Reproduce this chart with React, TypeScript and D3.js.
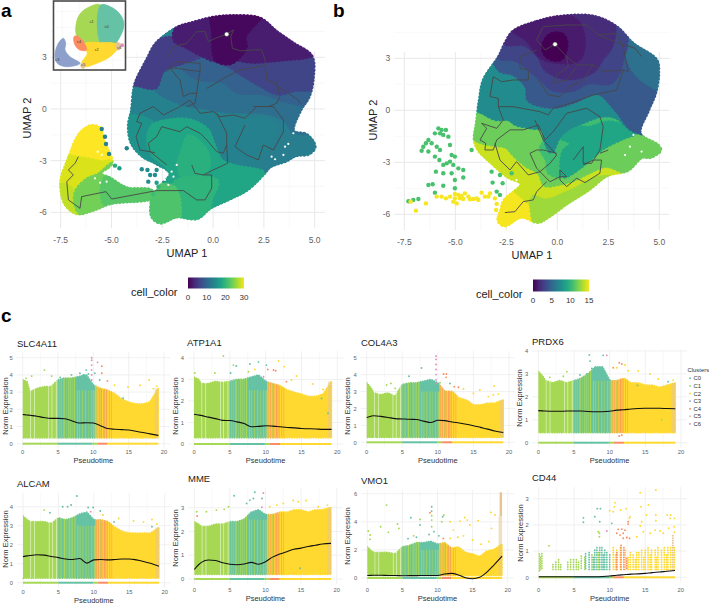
import * as d3 from 'd3';

type Pt = number[];
type Band = [number, Pt[]];

// ---- panel a, UMAP coordinates
const aMainOutline: Pt[] = [[0,5.3],[1,5.4],[2.3,5.25],[3.1,4.5],[3.95,3.8],[4.85,3.05],[4.9,1.7],[4.7,.7],[4.3,-.05],[3.95,-1.3],[4.6,-1.5],[5,-2.2],[4.7,-2.6],[4.05,-2.7],[3.6,-3],[2.8,-3.35],[2.5,-3.75],[1.65,-4.7],[.65,-5.3],[-.15,-5.75],[-.8,-6.35],[-1.8,-6.25],[-2.6,-6.6],[-3,-6.25],[-3,-5.3],[-2.6,-4.5],[-2.1,-3.75],[-2.8,-3.15],[-3.45,-2.75],[-4,-2],[-4.15,-1],[-4,-.05],[-3.9,1.1],[-3.75,1.7],[-3.25,2.85],[-2.8,3.8],[-1.8,4.7],[-1,5]];
const aLeftOutline: Pt[] = [[-5.81,-.99],[-5.56,-1.12],[-5.4,-1.8],[-5,-3.15],[-5.56,-3.74],[-5.07,-4.03],[-4.25,-4.6],[-3.1,-4.7],[-2.78,-5.09],[-3.27,-5.28],[-5.07,-5.48],[-5.89,-5.86],[-6.71,-6.06],[-7.29,-5.48],[-7.48,-4.22],[-7.2,-3.15],[-6.55,-1.41],[-6.06,-.99]];
const aMainBands: Band[] = [
  [13.3, aMainOutline],
  [15.5, [[-4.5,-.5],[-3,-.8],[-3.2,-1.8],[-3,-2.6],[-2,-3.8],[-3,-4],[-5,-3]]],
  [12.8, [[.5,-.2],[1.5,-.2],[2.5,-.3],[3.2,-.9],[3,-2],[2.4,-3.2],[3,-4],[5.5,-3],[5.5,-1.2],[4,-1.3],[3.5,-.6]]],
  [10.9, [[-2.85,1.25],[-2.45,2.25],[-1.6,2.65],[-.5,3.2],[.5,2.65],[.8,2.5],[1.3,2.1],[2.3,1.4],[3.2,.9],[4,1.1],[5.2,1.3],[5.2,-1.2],[4,-1.3],[3.5,-.6],[2.5,-.2],[1.5,-.15],[.5,-.1],[-.5,.1],[-1.5,.3]]],
  [9.3, [[-1.6,2.65],[-.5,3.2],[.5,2.65],[.8,2.5],[1.3,2.1],[2.3,1.4],[3.2,.9],[4,1.1],[5.2,1.3],[5,.3],[3.5,.5],[2.5,.9],[1.2,1],[.5,1.6],[-.8,1.8]]],
  [5.5, [[-4,1.4],[-3.25,3],[-2.8,3.9],[-1.9,4.1],[-1.3,3.6],[-.5,3.2],[-1.6,2.65],[-2.45,2.25],[-2.85,1.25],[-3.75,1.4]]],
  [6.2, [[.5,2.65],[1.2,2.95],[1.9,2.75],[2.7,2.8],[3.6,2.9],[5.2,3.2],[5.2,1.3],[4,1.1],[3.2,.9],[2.3,1.4],[1.3,2.1],[.8,2.5]]],
  [2.5, [[-1.8,4.7],[0,5.5],[0,4.4],[.15,2.85],[-.5,3.1],[-1.3,3.6],[-1.9,4]]],
  [2.5, [[2.4,5.5],[3.1,4.5],[4.95,3.2],[4.5,3],[3.6,2.9],[2.7,2.8],[1.9,2.75],[1.2,2.95],[1.6,3.6],[1.55,4.2]]],
  [0.6, [[0,5.6],[2.4,5.6],[1.55,4.2],[1.6,3.6],[1.2,2.95],[.8,2.65],[.15,2.85],[0,4.4]]],
  [18, [[-3,-1],[-2.5,-.75],[-1.2,-.65],[-.3,-1.2],[0,-2],[.4,-3],[1,-3.3],[2.5,-3.75],[1.65,-4.7],[.65,-5.3],[-.15,-5.75],[-.8,-6.6],[-3.2,-6.8],[-3,-5.3],[-2.1,-3.75],[-3,-2.6],[-3.2,-1.8]]],
  [19.4, [[-1.2,-1.6],[-.4,-2.3],[-.2,-3.2],[-.6,-4],[-1.4,-4.1],[-1.7,-3.2],[-1.5,-2.4]]],
  [19.8, [[-1.9,-4.3],[-.6,-4],[.2,-4.2],[-.1,-5.2],[-.4,-6.6],[-1.9,-6.6]]],
  [22, [[-3.2,-4.6],[-1.9,-4.6],[-1.8,-6.8],[-3.2,-6.8]]],
];
const aLeftBands: Band[] = [
  [30.4, aLeftOutline],
  [28.8, [[-8,-2.9],[-6.3,-2.9],[-5.5,-3.1],[-4.9,-3.1],[-4.9,-7],[-8,-7]]],
  [27.6, [[-8,-4.4],[-7,-4.6],[-6.7,-5],[-5.8,-5.6],[-5.8,-6.5],[-8,-6.5]]],
  [24, [[-5,-3.2],[-5.6,-3.8],[-6.2,-4.1],[-6.7,-4.7],[-6.8,-5.3],[-6.5,-6.1],[-4.5,-6],[-2.5,-6],[-2.5,-4.2],[-4,-3]]],
  [22.4, [[-5.3,-4],[-3.8,-4.2],[-2.6,-4.5],[-2.6,-5.5],[-5.3,-5.6]]],
];
const aDots: number[][] = [[-5.48,-1.16,13.5],[-5.32,-1.61,13.5],[-5.27,-2.03,13.5],[-5.12,-2.61,13.5],[-4.25,-2.28,13.5],[-4.83,-3.29,19],[-4.61,-3.44,17],[-3.51,-3.5,15],[-3.23,-3.54,15],[-3.1,-3.83,15],[-2.78,-3.54,15],[-2.86,-3.83,15],[-3.19,-4.22,15],[-2.78,-4.28,17],[-2.69,-4.51,20],[-3.02,-5.38,22],[-2.94,-5.77,22],[-2.78,-5.96,22],[-2.95,-4.95,21]];
const aHoles: Pt[] = [[3.95,-1.41],[3.7,-2.03],[3.54,-2.19],[3.46,-2.67],[3.05,-2.92],[2.88,-2.77],[-2.04,-3.64],[-1.95,-3.93],[-1.79,-3.25],[-2.37,-4.12],[-5.81,-4.03],[-5.56,-4.28],[-5.24,-4.22],[-5.68,-2.48],[-5.48,-2.67],[-2.45,-3.54],[-2.2,-4.41]];
const aPaths: Pt[][] = [
  [[-2.2,3.04],[-1.95,3.62],[-1.3,3.81],[-.81,4.49],[-.4,4.49],[-.23,3.91],[.1,4.1],[.67,4.34],[1,4.59],[.87,4.2],[.95,3.52],[1.36,3.37],[2.06,3.43],[2.39,3.43],[2.56,2.84],[2.64,1.68],[2.88,1.59],[3.46,1.1],[4.2,.52],[4.28,.33]],
  [[1.98,.14],[2.72,.14],[3.13,.33],[3.29,.72],[3.13,1.59]],
  [[-2.28,2.17],[-1.79,2.75],[-.64,2.65],[-.64,2.17],[-1.79,2.36],[-2.12,2.36],[-1.63,1.68],[-1.46,.72],[-1.14,.91],[-.81,.91],[-.72,1.68],[-.64,2.17]],
  [[-.81,.91],[-.89,.33],[-1.3,.14]],
  [[-.31,1.2],[.67,1.88],[1.33,2.26],[2.64,2.55]],
  [[-3.79,-1.61],[-3.51,-.83],[-3.76,-.74],[-3.6,-.25],[-2.94,.14],[-2.45,-.35],[-1.63,.14],[-1.14,.52],[-.64,-.25],[.01,-.15],[.34,-.45],[1,-.35],[1.57,-.54],[2.15,.14],[2.97,.14],[3.46,-.64],[3.46,-1.32],[2.97,-2.38],[2.47,-2.09],[2.23,-2.96],[1.65,-2.67],[1.08,-2.19],[1.57,-.93]],
  [[-3.79,-1.61],[-3.6,-2.38],[-2.86,-2.54]],
  [[-2.28,-3.25],[-3.1,-2.48],[-3.19,-1.99],[-2.78,-1.61],[-2.53,-1.03],[-1.63,-1.32],[-1.3,-1.03],[-.64,-1.41],[-.31,-1.8],[.18,-2.48],[.5,-2.57],[.67,-2.09],[.72,-3.15],[.01,-3.54],[-.48,-3.83],[-.89,-3.74],[-1.05,-3.25]],
  [[.18,-.25],[.67,-1.41],[.67,-2.09]],
  [[-6.63,-2.77],[-6.79,-3.15],[-7.12,-3.54],[-6.88,-3.83],[-7.2,-4.22],[-7.12,-5.28],[-6.55,-5.77],[-6.47,-5.09],[-5.27,-4.8],[-4.99,-5.23],[-2.78,-4.74],[-1.46,-4.74],[-.81,-5.28],[-.4,-5.28],[-.07,-4.61],[-.07,-3.83],[-.48,-3.83]],
];
const aStart: Pt = [.67,4.34];

// ---- inset, cluster shapes
const insetC1: Pt[] = [[.84,5.2],[-1.66,4.58],[-3.14,3.04],[-3.56,-.04],[-2.84,-1.27],[-1.95,-1.89],[.84,-1.76]];
const insetC0: Pt[] = [[.84,5.2],[3.1,4.58],[4.58,3.04],[5,1.5],[4.29,-.65],[3.1,-2.19],[.84,-1.76]];
const insetC2: Pt[] = [[-1.95,-1.89],[.84,-1.76],[3.4,-1.89],[4,-2.5],[2.5,-4.35],[.13,-5.58],[-1.95,-6.2],[-2.55,-5.58],[-1.54,-3.73],[-1.95,-2.81]];
const insetC4: Pt[] = [[-3.91,-.65],[-3.32,-.53],[-2.25,-1.58],[-1.66,-3.12],[-2.84,-3.12],[-3.73,-2.19]];
const insetC3: Pt[] = [[-5.81,-.96],[-5.4,-1.89],[-5.52,-3.12],[-4.63,-4.35],[-2.84,-5.58],[-5.22,-6.2],[-6.88,-5.58],[-7.3,-4.04],[-6.7,-1.89]];
const insetC5a: Pt[] = [[-2.55,-5.58],[-1.95,-5.77],[-2.13,-6.5],[-2.67,-6.3]];
const insetC5b: Pt[] = [[3.7,-1.76],[4.4,-2],[4.17,-3.1],[3.7,-3]];
const insetC6: Pt[] = [[4.5,-2],[4.95,-2.1],[4.85,-2.5],[4.45,-2.45]];
const insetShapes: [number, Pt[]][] = [[1,insetC1],[0,insetC0],[2,insetC2],[3,insetC3],[4,insetC4],[5,insetC5a],[5,insetC5b],[6,insetC6]];
const insetLabels: [string, number, number][] = [['c1',-.76,2.1],['c0',1.9,1.2],['c4',-3,-1.58],['c2',.13,-3.12],['c3',-6.88,-4.85],['c5',-2.25,-5.89],['c6',4.17,-2.63]];

// ---- panel b
const bOutline: Pt[] = [[-2.15,4.55],[-1,5.1],[.15,5.4],[1.8,5.4],[2.9,4.8],[3.7,3.85],[4.85,2.9],[4.95,2.15],[4.8,1],[4.45,0],[4.05,-1.35],[4.9,-2],[5.05,-2.3],[4.55,-2.7],[4.15,-2.7],[3.45,-3.45],[2.45,-3.75],[1.5,-4.6],[.5,-5.35],[-.45,-6.15],[-.95,-6.45],[-1.75,-6.15],[-2.6,-6.65],[-2.9,-6.35],[-2.75,-5.75],[-2.6,-5.2],[-1.75,-4.25],[-2.4,-3.85],[-3.2,-3.05],[-3.85,-2.3],[-4.05,-1.7],[-3.95,-.75],[-3.8,.6],[-3.6,1.75],[-2.85,3.1],[-2.55,3.85]];
const bBands: Band[] = [
  [15, bOutline],
  [14, [[-4.5,-2.5],[-2.5,-4.2],[-1.8,-4.9],[-1.2,-5.6],[-.95,-6.6],[6,-7],[6,6],[-5,6]]],
  [13, [[-1.2,-5],[-.6,-5.2],[.6,-4.7],[2,-3.9],[2.6,-3.9],[1.5,-5],[.2,-6],[-1,-6.7]]],
  [11.8, [[-4.5,-1.2],[-3.8,-1.8],[-3,-2],[-2.5,-2.1],[-2.1,-2.6],[-1.5,-3.2],[-.9,-3.6],[-.6,-4.3],[.2,-4.2],[.8,-4],[1.5,-3.6],[2.4,-3.2],[3.4,-3.6],[6,-4],[6,6],[-5,6]]],
  [10.5, [[-4.5,0],[-3.7,-.1],[-3,-.5],[-2.4,-.5],[-2,-.8],[-1.2,-1],[-.7,-1.1],[-.6,-1.7],[-.8,-2.2],[-.5,-2.9],[-.4,-3.6],[.3,-3.8],[1.2,-3.2],[1.6,-2.8],[2.2,-2.2],[3.2,-1.6],[3.8,-1.3],[6,-1.2],[6,6],[-5,6]]],
  [9, [[.1,-1.5],[.8,-1],[1.6,-1],[2.6,-.7],[3.8,-1.3],[3.2,-1.6],[2.2,-2.2],[1.6,-2.8],[1.2,-3.2],[.3,-3.8],[.3,-2.4],[.7,-1.9]]],
  [7.3, [[-5,.9],[-3.7,-.1],[-3,-.5],[-2.4,-.5],[-2,-.8],[-1.2,-1],[-.7,-1.1],[-.6,-1.7],[-.3,-2.4],[.1,-1.5],[.6,-1],[1.2,-.7],[2.2,-.3],[2.9,-.4],[3.8,-1.2],[6,-1.2],[6,6],[-5,6]]],
  [4.2, [[-3.2,3.2],[-2.8,2.3],[-2.15,2.1],[-1.5,1.35],[-1.4,.6],[-.2,.2],[.8,.5],[2,1],[2.9,0],[3.75,-1.15],[6,-1.2],[6,6],[-3.2,6]]],
  [5.6, [[3.2,4.3],[5.2,3.1],[5.2,1.2],[4.5,1.5],[3.8,2.2],[3.4,3.2]]],
  [3.1, [[-2.9,3.1],[-2,2.9],[-1.2,2.2],[-.8,1.8],[-.2,1.2],[.8,1.2],[1.5,1.6],[2.6,1.6],[3,2.2],[3.2,3],[3.4,4],[3.2,6],[-3,6]]],
  [1.9, [[-2.6,3.9],[-1.6,3.8],[-.9,3.1],[-.6,2.4],[.2,1.9],[1,1.9],[1.8,2.3],[2.2,3],[2.6,3.6],[2.8,4.8],[2.4,6],[-2.6,6]]],
  [1.1, [[-2.1,4.6],[-1.5,4.1],[-.7,3],[1,2.9],[1.3,3.8],[1,5.1],[0,5.5],[-1,5.2]]],
  [0, [[-.35,4.35],[.25,4.35],[.45,3.8],[.15,2.95],[-.5,3.1],[-.7,3.65]]],
];
const bGreenDots: Pt[] = [[-5.83,-1.04],[-5.67,-1.13],[-5.46,-1.13],[-6,-1.33],[-5.75,-1.33],[-5.59,-1.42],[-5.34,-1.52],[-5.26,-2],[-6.32,-1.71],[-6.44,-1.9],[-6.16,-1.9],[-6.57,-2.1],[-5.91,-2.1],[-6.65,-2.33],[-6.32,-2.38],[-5.75,-2.29],[-5.18,-2.58],[-5.02,-2.67],[-6,-2.67],[-5.78,-2.87],[-5.26,-2.96],[-5.42,-3.06],[-5.1,-3.15],[-5.59,-3.15],[-4.85,-3.35],[-4.61,-3.44],[-5.95,-3.54],[-5.18,-3.63],[-5.59,-3.63],[-5.02,-4.02],[-4.61,-3.88],[-5.02,-4.5],[-6.32,-4.31],[-6.11,-4.27],[-5.59,-4.35],[-6,-4.75],[-7.3,-5.25],[-7.06,-5.17],[-6.81,-5.12],[-4.2,-2.29],[-3.22,-3.54],[-2.81,-3.73],[-3.17,-4.17],[-2.68,-4.21],[-2.97,-4.69],[-2.81,-4.88],[-2.24,-3.63]];
const bYellowDots: Pt[] = [[-5.91,-4.98],[-5.67,-4.98],[-5.46,-5.08],[-5.02,-4.83],[-5.02,-5.08],[-4.85,-4.88],[-4.53,-4.79],[-4.36,-4.98],[-4.93,-5.37],[-4.61,-5.12],[-4.12,-5.12],[-3.87,-5.17],[-3.71,-4.75],[-3.55,-4.98],[-3.3,-4.79],[-3.38,-4.98],[-6.93,-5.79],[-6.44,-5.37],[-7.19,-5.27],[-3.06,-5.08],[-2.97,-5.4],[-3,-5.75],[-5.26,-4.98],[-4.77,-5.08],[-4.28,-5.13],[-3.95,-5.08],[-4.69,-4.94],[-5.1,-5.27]];
const bHoles: Pt[] = [[3.73,-1.42],[3.56,-2.1],[3.32,-2.58],[4.13,-2.38],[-2,-4.02]];
const bPaths: Pt[][] = [
  [[-.11,3.81],[-.6,3.48],[-1.01,4.06],[-.69,4.83],[.46,4.92],[.95,4.92],[1.44,4.92],[2.01,4.35],[2.99,3.87],[3.81,3.58],[4.13,3.1]],
  [[-.11,3.81],[.46,3.1],[.95,2.62],[1.76,2.62],[2.25,2.23],[3.24,2.33],[3.48,2.23],[3.24,3.58],[2.91,4.44],[2.01,4.35]],
  [[.46,3.1],[.54,2.52],[-.03,2.04],[-.2,1.56],[.46,1.75],[.95,2.52]],
  [[-1.01,3.48],[-1.83,3.1],[-1.83,2.42],[-1.42,2.33],[-1.42,1.75],[-2.16,1.75],[-2.73,1.65],[-3.14,1.94],[-3.3,.79],[-2.89,.69],[-2.89,.21],[-2.16,.21],[-.85,-.08],[-.44,-.27],[-.2,.12],[.62,.4],[1.76,.88],[2.91,1.17],[3.24,2.33]],
  [[-.93,1.75],[-.44,.88],[.13,.79],[.62,1.37],[1.27,1.75],[1.76,2.62]],
  [[-3.71,-.75],[-3.46,-1.04],[-3.79,-1.71],[-3.51,-1.9],[-3.55,-2.29],[-3.14,-2.29],[-2.97,-1.71],[-2.32,-1.13],[-1.67,-1.13],[-.93,-.85],[-.6,-1.71],[-.2,-1.23],[.46,-.17],[1.44,.12],[2.09,-.37],[2.25,-.94],[2.09,-2.29],[1.68,-3.06],[1.27,-3.06],[1.27,-2.1],[.78,-2.87]],
  [[-3.71,-.75],[-2.97,-1.04],[-2.65,-.56],[-2.89,.21]],
  [[-1.1,-.56],[-.69,-1.71],[-.03,-2.58],[-.36,-3.06],[-.85,-3.54],[-1.42,-3.73],[-2,-2.96],[-2.32,-3.44],[-2.81,-2.87],[-3.06,-1.9]],
  [[-.03,-2.48],[-.69,-2.29],[-1.01,-2.29],[-1.34,-2.48],[-1.01,-3.35],[-.85,-3.54],[-.36,-4.12],[.13,-3.83],[.46,-3.83],[.13,-3.44],[.13,-4.02],[.46,-4.4],[.95,-3.92],[1.36,-4.17],[2.09,-3.63],[2.17,-2.87],[1.76,-2.87],[1.27,-3.15]],
  [[-.52,-4.12],[-1.01,-4.69],[-1.18,-5.17],[-1.67,-5.27],[-2.08,-5.85],[-2.57,-5.9]],
  [[2.09,-2.48],[2.5,-2.29]],
];
const bStart: Pt = [-.11,3.81];

// ---- panel c, clusters: colours follow ColorBrewer Set2
const clusterNames = ['C0','C1','C2','C3','C4','C5','C6'];
const clusterColors = ['#66c2a5','#a6d854','#ffd92f','#8da0cb','#fc8d62','#e5c494','#e78ac3'];
const geneNames = ['SLC4A11','ATP1A1','COL4A3','PRDX6','ALCAM','MME','VMO1','CD44'];
const binTimes = [0,.6,1,2,3,4,5,6,7,8,9,10,11,12,13,14,15,16,17,18,19.2];

const slcUpper = [3.7,3.6,3,3.2,3.3,3.3,3.7,3.8,3.8,3.9,4,3.4,3.2,3.1,2.9,2.6,2.4,2.3,2.3,2.4,3.2];
const atpUpper = [3.1,3,2.8,2.8,2.9,2.85,2.9,3,3,3.1,3.2,2.9,2.8,2.7,2.5,2.4,2.3,2.2,2.2,2.3,2.9];
const colUpper = [3.5,3.2,2.9,2.8,2.9,2.7,3.4,3.5,3.5,3.6,3.7,3.5,3,3,2.6,2.5,2.2,2.2,2.3,2.3,2.5];
const prdUpper = [3.1,2.9,2.7,2.6,2.7,2.6,2.7,2.8,3,3.3,3.3,2.7,2.7,2.8,2.6,2.6,2.5,2.5,2.4,2.5,2.6];
const alcUpper = [3.5,3.3,3.2,3.2,3.2,3.1,3.4,3.3,3.4,3.6,3.7,3.3,3.3,3.2,2.9,2.7,2.6,2.6,2.6,2.6,2.9];
const mmeUpper = [2.4,2.3,2.2,2.2,2.3,2.3,2.4,2.4,2.5,2.8,2.9,2.7,2.7,2.8,2.8,2.9,2.9,2.8,2.9,2.9,3];
const vmoUpper = [2.2,1.9,1.8,1.8,1.8,1.7,2.2,2.3,2.5,2.5,2.6,2.4,2.5,2.1,2.2,1.8,1.7,1.5,1.9,2,2.4];
const lowerBounds = [.35,.3,.3,.45,.25,.2,.18];
const tealCapFrom = [3.1,2.5,3,2.7,3,2.5,2];
const geneUppers = [slcUpper,atpUpper,colUpper,prdUpper,alcUpper,mmeUpper,vmoUpper];

const slcTrend = [1.7,1.67,1.65,1.6,1.52,1.47,1.47,1.45,1.32,1.2,1.22,1.2,1.05,.88,.84,.82,.8,.72,.65,.57,.48];
const atpTrend = [1.38,1.35,1.33,1.25,1.18,1.1,1.09,1.03,.95,.8,.82,.85,.83,.8,.77,.75,.72,.71,.7,.68,.68];
const colTrend = [1.47,1.54,1.57,1.53,1.47,1.4,1.38,1.36,1.35,1.25,1.17,1.3,1.28,1.2,1.14,1.07,.98,.88,.78,.67,.58];
const prdTrend = [1.4,1.39,1.38,1.37,1.37,1.38,1.38,1.38,1.36,1.35,1.35,1.37,1.42,1.44,1.47,1.49,1.5,1.5,1.5,1.49,1.48];
const alcTrend = [1.37,1.41,1.43,1.47,1.45,1.38,1.32,1.25,1.22,1.27,1.03,1.2,1.22,1.2,1.22,1.25,1.25,1.2,1.12,1.02,.87];
const mmeTrend = [.4,.6,.7,.8,.78,.68,.62,.6,.63,.7,.62,.73,.92,1.05,1.15,1.25,1.3,1.37,1.42,1.47,1.5];
const vmoTrend = [.18,.19,.2,.2,.18,.18,.16,.17,.17,.18,.18,.18,.28,.33,.22,.02,-.05,.05,.4,.9,1.55];
const cdTrend = [.02,.02,.02,.02,.02,.02,.02,.02,.02,.02,.03,.05,.08,.1,.12,.13,.15,.18,.2,.23,.26];
const geneTrends = [slcTrend,atpTrend,colTrend,prdTrend,alcTrend,mmeTrend,vmoTrend,cdTrend];

// [pseudotime, width], stripes shared by the dense panels
const c0Stripes = [[5,.22],[5.3,.12],[5.5,.25],[5.95,.2],[6.2,.25],[6.6,.15],[6.85,.1],[7.05,.2],[7.4,.28],[7.8,.2],[8.1,.3],[8.5,.35],[8.95,.3],[9.3,.35],[9.75,.25],[10.1,.12]];
const c4Stripes = [[10.3,.1],[10.6,.12],[10.85,.08],[11.05,.18],[11.4,.2],[11.8,.15],[12.2,.1],[12.5,.08]];
const c1LateStripes = [[9.9,.2],[10.4,.12],[10.9,.1],[11.6,.1]];
const whiteSlits = [1.05,1.6,3.65,4.1,4.7];
const c5Tops = [3.2,2.9,2.5,2.6,2.9,3,4.4];

// [pseudotime, value, cluster]
const slcPts = [[9.76,5,6],[9.76,4.85,6],[9.76,4.57,6],[9.76,4.28,6],[9.76,4,6],[9.76,3.7,6],[10.6,4.73,6],[11.2,4.5,4],[11.2,4.1,4],[12,3.65,4],[3.07,4.28,1],[1.27,3.93,1],[.47,3.8,1],[4.1,3.93,1],[17.9,3.7,2],[16.6,3.4,2],[14.9,3.3,2],[13,3.4,2],[9,4.28,0],[8.1,4.1,0],[8.6,4,0],[6.9,4,0],[5.3,3.85,0],[5.75,3.8,0],[9.3,4.05,0],[10.2,4.1,0],[10.9,3.7,0],[14.2,2.64,0],[18.5,3.2,2],[19,3.35,2]];
const atpPts = [[4.1,4.09,1],[5.5,3.67,1],[5.9,3.63,0],[7.8,3.72,0],[9,3.81,0],[10.1,3.67,0],[11.8,3.86,2],[12.6,3.6,2],[10.3,3.47,4],[11.1,3.44,4],[11.4,3.41,4],[8.5,3.47,2],[7.6,3.36,1],[2.9,3.3,1],[.1,3.3,1],[5.1,3.3,0],[9.7,3.13,6],[13.6,2.98,2],[14.3,3.16,2],[16.6,2.79,2],[17.8,2.12,0],[18.7,1.43,0],[12.9,2.9,4],[18,2.54,2]];
const colPts = [[9.74,5.1,6],[9.74,4.9,6],[9.74,4.6,6],[9.74,4.3,6],[9.74,4,6],[9.74,3.7,6],[9.74,3.5,6],[7.7,4.39,0],[5.95,3.9,0],[10.8,4.04,4],[11.15,3.84,4],[11.2,4.04,4],[2.8,3.39,1],[3.4,3.48,1],[4,3.19,1],[12.3,3.29,4],[12.9,3.25,4],[13.6,3.15,2],[15.9,3.09,2],[17.9,3.33,2],[17.8,2.8,2],[18.5,2.85,2],[17.1,2.7,2],[15,2.9,2],[11.7,3.48,0],[10.3,3.52,1]];
const prdPts = [[7.15,3.83,0],[9.1,3.81,0],[9.6,3.81,6],[7.25,3.56,0],[11.35,3.49,4],[11.7,3.43,4],[12.15,3.39,2],[10.5,3.27,4],[11,3.27,2],[7.5,3.24,0],[4,3.1,1],[1.6,2.85,1],[3.5,2.9,1],[5.85,2.95,0],[6.8,3,0],[12.6,3.14,2],[14,3.13,2],[15.65,3,2],[16.8,2.78,2],[18.2,2.66,0],[18.9,2.73,2],[13.9,2.5,0],[11.7,.33,4],[11.35,.29,4],[13.3,.55,2],[17.3,1,1]];
const alcPts = [[7.6,4.56,0],[5.6,4,0],[6.3,4,0],[6.8,4.09,0],[9.2,3.96,0],[9.9,3.96,0],[3,3.82,1],[3.8,3.68,0],[9.55,3.74,6],[10.9,3.77,0],[11.3,3.56,2],[13.5,3.38,2],[15.6,3.25,2],[17,3.2,2],[18.2,3.33,2],[18.9,3.09,2],[12.85,3.2,0],[18.2,2.95,0],[1.2,.23,1],[.05,.23,1],[14.9,.4,2]];
const mmePts = [[5.6,3.5,0],[8.5,3.65,0],[9.7,3.62,6],[.33,2.83,1],[1.7,2.83,1],[3.1,2.9,1],[4.2,2.93,1],[4.8,3.04,1],[7.35,3.18,0],[7.8,3.32,0],[8.3,3.39,0],[9.5,3.39,0],[9.5,3.02,6],[10.6,3.04,2],[11.6,3.11,2],[12.5,3.18,2],[13.9,3.3,2],[14.6,3.25,2],[15.7,3.3,2],[17.4,3.04,2],[18.7,3.11,2],[.4,2.65,4],[14.85,.45,0],[13.35,.52,2],[15.55,.2,2]];
const vmoPts = [[2.75,5.19,1],[1.9,3.65,1],[3,3.25,1],[4.3,3.84,1],[4.5,3.53,1],[.14,3.34,1],[.4,3.06,1],[.4,2.75,1],[6.2,4.29,0],[7.5,4.17,1],[7.5,3.77,0],[9.17,5.07,0],[9.17,4.76,0],[8.93,4.64,4],[9.17,4.43,1],[9.17,4.12,1],[9.17,3.65,1],[10.9,4.48,1],[10.74,4.36,0],[10.6,4,1],[11.8,4,2],[13.9,4.31,2],[14.25,4.12,2],[13.2,4.05,2],[15.8,4.07,2],[14.6,3.77,2],[12.26,3.41,2],[17.6,4.67,2],[18.2,4.48,2],[17.7,3.53,2],[10.83,2.82,4],[11.8,2.82,2],[9.5,3.3,0],[8.8,3.1,0],[10.2,3,0],[7,2.9,0],[5.8,2.8,0],[6.6,3,1],[12.9,2.9,2],[13.7,3,2],[15,2.7,2],[16.2,2.4,2],[17.3,2.6,2]];
const cdPts = [[14.3,3.23,2],[16.5,3.33,2],[15.45,2.76,2],[14.4,2.69,2],[10.75,2.85,2],[10.66,2.69,2],[12.3,2.62,2],[11.55,2.57,2],[10.5,2.5,2],[10,2.54,2],[12.85,2.31,2],[12.77,2.25,2],[12.6,2.03,4],[15.2,2.38,2],[16.5,2.38,2],[18.1,2.38,2],[18.6,2.38,2],[18.5,2.25,2],[19.1,2.25,2],[16.5,2.16,2],[14.5,2.12,2],[14.3,1.96,2],[14.75,1.74,2],[15.7,1.68,2],[16.4,1.8,2],[17.1,1.77,2],[17.55,1.68,2],[18.3,1.87,2],[19.1,1.93,2],[19.1,1.72,2],[13.8,1.55,2],[6.3,2.27,0],[6.3,2.1,0],[7.9,2.31,0],[8.25,2.62,0],[8.7,2.62,0],[8.6,2.12,0],[10.3,2.06,0],[8.4,1.74,1],[8.55,1.68,1],[8.55,1.55,1],[1.45,1.2,1],[11.2,1.83,4],[11.7,1.84,4],[11.9,1.68,4],[11.45,1.61,4],[12.4,1.52,4],[11,1.68,4],[12.6,2.12,4],[12.15,1.8,4],[12.8,1.49,4],[11.9,1.49,4],[9.6,1.77,6]];
const genePoints = [slcPts,atpPts,colPts,prdPts,alcPts,mmePts,vmoPts,cdPts];

// [pseudotime, low, high, cluster] for the sparse CD44 columns
const cdColumns = [[.1,.25,.95,1],[.25,.3,.8,1],[.45,.35,.9,1],[2,.3,.5,1],[2.4,.3,.6,1],[2.8,.3,.7,1],[3.1,.3,.55,1],[4.1,.3,.6,1],[4.5,.3,.7,1],[4.9,.3,.75,1],[5.3,.3,.7,1],[5.6,.3,.6,1],[6,.35,.85,1],[6.5,.3,.8,1],[6.6,.35,.9,0],[7.1,.3,.95,0],[7.5,.3,.9,1],[7.7,.3,.8,0],[7.9,.3,1.1,0],[8.2,.3,1.2,0],[8.4,.3,1,1],[8.6,.3,1.2,0],[8.9,.3,1.15,0],[9.1,.3,.9,0],[9.3,.3,1.1,0],[9.6,.3,.95,0],[10,.3,.9,0],[10.5,.3,1.2,2],[10.8,.3,.9,2],[11,.3,1.05,2],[11.5,.3,1.2,2],[12.2,.3,1.1,2],[12.6,.3,.8,2],[12.9,.3,.95,2],[13.3,.3,.9,2],[13.6,.3,.7,2],[13.8,.3,.95,2],[14.1,.3,1,2],[14.5,.3,1.1,2],[14.8,.3,.8,2],[15,.3,1.05,2],[15.4,.3,1.2,2],[15.7,.3,.85,2],[15.9,.3,1.1,2],[16.4,.3,1.05,2],[16.6,.3,.8,2],[16.8,.3,1.2,2],[17.3,.3,1.1,2],[17.7,.3,1.15,2],[18,.3,.9,2],[18.2,.3,1.2,2],[18.6,.3,1.2,2],[19.1,.3,1.2,2],[18.9,.3,1.6,5],[11,.3,1,4],[11.6,.3,1.3,4],[12,.3,1.2,4],[12.4,.35,.8,4]];
const rugSegments = [[0,5,1],[5,9.9,0],[9.9,10.6,1],[10.6,12,4],[12,19.2,2]];

// layout of the eight small panels: x of 0 and 20, y of 0, y of refValue, title position
const frames = [
  {x0:22.7,x20:164,y0:443.7,yRef:357.7,ref:5,ticks:[0,1,2,3,4,5],tx:17,ty:346.5,lx:4.5,ly:406,pty:463,top:352},
  {x0:194,x20:337.3,y0:444,yRef:358,ref:4,ticks:[0,1,2,3,4],tx:187,ty:346,lx:175,ly:406,pty:463,top:351},
  {x0:366.7,x20:509,y0:442.3,yRef:357.7,ref:5,ticks:[0,1,2,3,4,5],tx:361,ty:346,lx:347,ly:406,pty:463,top:351},
  {x0:538.3,x20:681,y0:442.7,yRef:351,ref:4,ticks:[0,1,2,3,4],tx:532,ty:345,lx:519,ly:398,pty:463,top:350},
  {x0:23,x20:164.7,y0:582.7,yRef:506.7,ref:4,ticks:[0,1,2,3,4],tx:17,ty:487,lx:4.5,ly:539,pty:603,top:493},
  {x0:194.3,x20:336.7,y0:579,yRef:507.7,ref:3,ticks:[0,1,2,3],tx:188,ty:482,lx:175,ly:538,pty:601,top:488},
  {x0:367.3,x20:507.7,y0:578,yRef:493.7,ref:6,ticks:[0,2,4,6],tx:361,ty:484,lx:347,ly:536,pty:601,top:490},
  {x0:538.7,x20:680.7,y0:577.3,yRef:498.7,ref:3,ticks:[0,1,2,3],tx:532,ty:481,lx:520,ly:533,pty:601,top:487},
];
const pseudotimeTicks = [0,5,10,15,20];

const sans = '"Liberation Sans", Arial, sans-serif';
const axisGrey = '#5f5f5f';

const closed = (sx: any, sy: any) => d3.line<Pt>().x(d => sx(d[0])).y(d => sy(d[1])).curve(d3.curveCatmullRomClosed.alpha(.5));
const open = (sx: any, sy: any) => d3.line<Pt>().x(d => sx(d[0])).y(d => sy(d[1]));

const UmapPanel = ({ id, sx, sy, color, groups, dots, holes, paths, start }: any) => {
  const toClosed = closed(sx, sy);
  const toOpen = open(sx, sy);
  const right = sx.range()[1] + 10;
  const left = sx.range()[0] - 10;
  const top = sy.range()[1] - 6;
  const bottom = sy.range()[0] + 16;
  return (
    <g>
      {d3.range(-7.5, 5.1, 1.25).map((v, i) => (
        <line key={'x' + i} x1={sx(v)} x2={sx(v)} y1={top} y2={bottom} stroke={i % 2 ? '#f3f3f3' : '#e8e8e8'} strokeWidth={i % 2 ? .6 : 1} />
      ))}
      {d3.range(-6, 4.6, 1.5).map((v, i) => (
        <line key={'y' + i} x1={left} x2={right} y1={sy(v)} y2={sy(v)} stroke={i % 2 ? '#f3f3f3' : '#e8e8e8'} strokeWidth={i % 2 ? .6 : 1} />
      ))}
      {groups.map((g: any, gi: number) => (
        <g key={gi}>
          <mask id={`${id}-m${gi}`} maskUnits="userSpaceOnUse" x={0} y={0} width={709} height={605}>
            <path d={toClosed(g.outline) || ''} fill="#fff" stroke="#fff" strokeWidth={4} strokeLinecap="round" strokeDasharray="0.1 3.4" />
          </mask>
          <g mask={`url(#${id}-m${gi})`}>
            {g.bands.map((b: Band, i: number) => (
              <path key={i} d={toClosed(b[1]) || ''} fill={color(b[0])} stroke={color(b[0])} strokeWidth={4.5} strokeLinecap="round" strokeDasharray="0.1 3.9" />
            ))}
          </g>
        </g>
      ))}
      {holes.map((d: Pt, i: number) => <circle key={i} cx={sx(d[0])} cy={sy(d[1])} r={1.1} fill="#fff" />)}
      {dots.map((d: number[], i: number) => <circle key={i} cx={sx(d[0])} cy={sy(d[1])} r={2.2} fill={color(d[2])} />)}
      {paths.map((p: Pt[], i: number) => <path key={i} d={toOpen(p) || ''} fill="none" stroke="#474747" strokeWidth={.9} />)}
      <circle cx={sx(start[0])} cy={sy(start[1])} r={2.3} fill="#fff" stroke="#333" strokeWidth={.6} />
      {[-7.5,-5,-2.5,0,2.5,5].map(v => (
        <text key={v} x={sx(v)} y={sy.range()[0] + 31} textAnchor="middle" fontSize={8.5} fill={axisGrey}>{v.toFixed(1)}</text>
      ))}
      {[-6,-3,0,3].map(v => (
        <text key={v} x={left - 4} y={sy(v) + 3} textAnchor="end" fontSize={8.5} fill={axisGrey}>{v}</text>
      ))}
    </g>
  );
};

const ColorBar = ({ id, x, y, w, h, color, max, ticks }: any) => {
  const scale = d3.scaleLinear().domain([0, max]).range([x, x + w]);
  return (
    <g>
      <defs>
        <linearGradient id={id}>
          {d3.range(0, 1.01, .1).map(s => <stop key={s} offset={s} stopColor={color(s * max)} />)}
        </linearGradient>
      </defs>
      <rect x={x} y={y} width={w} height={h} fill={`url(#${id})`} />
      {ticks.map((t: number) => (
        <text key={t} x={scale(t)} y={y + h + 11.5} textAnchor="middle" fontSize={8} fill="#333">{t}</text>
      ))}
    </g>
  );
};

const ExpressionPanel = ({ index }: { index: number }) => {
  const f = frames[index];
  const sx = d3.scaleLinear().domain([0, 20]).range([f.x0, f.x20]);
  const sy = d3.scaleLinear().domain([0, f.ref]).range([f.y0, f.yRef]);
  const upper = geneUppers[index];
  const maskId = `env-${index}`;
  const env = upper
    ? d3.area<number>().x((_, i) => sx(binTimes[i])).y0(() => sy(lowerBounds[index])).y1((_, i) => sy(upper[i]))(binTimes)
    : null;
  const trend = d3.line<number>().x((_, i) => sx(binTimes[i])).y(d => sy(d)).curve(d3.curveMonotoneX)(geneTrends[index]);
  const stripe = (s: number[], c: number, key: string, op = .9) => (
    <rect key={key} x={sx(s[0])} width={sx(s[1]) - sx(0)} y={f.top} height={f.y0 - f.top} fill={clusterColors[c]} opacity={op} />
  );
  return (
    <g>
      {[0,2.5,5,7.5,10,12.5,15,17.5,20].map((v, i) => (
        <line key={v} x1={sx(v)} x2={sx(v)} y1={f.top} y2={f.y0 + 5} stroke={i % 2 ? '#f5f5f5' : '#ebebeb'} strokeWidth={.7} />
      ))}
      {d3.range(0, f.ref + .01, f.ref === 6 ? 2 : 1).map(v => (
        <line key={v} x1={f.x0 - 6} x2={f.x20 + 6} y1={sy(v)} y2={sy(v)} stroke="#ebebeb" strokeWidth={.7} />
      ))}
      {env && (
        <g>
          <mask id={maskId} maskUnits="userSpaceOnUse" x={0} y={0} width={709} height={605}>
            <path d={env} fill="#fff" stroke="#fff" strokeWidth={2.2} strokeLinecap="round" strokeDasharray="0.1 2.3" />
          </mask>
          <g mask={`url(#${maskId})`}>
            <rect x={sx(0)} width={sx(9.9) - sx(0)} y={f.top} height={f.y0 - f.top} fill={clusterColors[1]} />
            <rect x={sx(9.9)} width={sx(19.3) - sx(9.9)} y={f.top} height={f.y0 - f.top} fill={clusterColors[2]} />
            {c1LateStripes.map((s, i) => stripe(s, 1, 'g' + i))}
            {c0Stripes.map((s, i) => stripe(s, 0, 't' + i))}
            <rect x={sx(7.6)} width={sx(10.2) - sx(7.6)} y={f.top} height={sy(tealCapFrom[index]) - f.top} fill={clusterColors[0]} />
            {c4Stripes.map((s, i) => stripe(s, 4, 'o' + i, .75))}
            {whiteSlits.map(t => <rect key={t} x={sx(t)} width={.6} y={f.top} height={f.y0 - f.top} fill="#fff" opacity={.8} />)}
          </g>
          <rect x={sx(18.7)} width={sx(19.2) - sx(18.7)} y={sy(c5Tops[index])} height={sy(lowerBounds[index]) - sy(c5Tops[index])} fill={clusterColors[5]} opacity={.55} />
          {index === 6 && <rect x={sx(18.85)} width={sx(.35) - sx(0)} y={sy(6.1)} height={sy(4.4) - sy(6.1)} fill={clusterColors[5]} />}
        </g>
      )}
      {index === 7 && cdColumns.map((c, i) => (
        <line key={i} x1={sx(c[0])} x2={sx(c[0])} y1={sy(c[1])} y2={sy(c[2])} stroke={clusterColors[c[3]]} strokeWidth={1.8} strokeLinecap="round" strokeDasharray="0.1 2.3" />
      ))}
      {genePoints[index].map((p, i) => (
        <circle key={i} cx={sx(p[0])} cy={sy(p[1])} r={.95} fill={clusterColors[p[2]]} />
      ))}
      {rugSegments.map((s, i) => (
        <rect key={i} x={sx(s[0])} width={sx(s[1]) - sx(s[0])} y={sy(0) - 1} height={2} fill={clusterColors[s[2]]} />
      ))}
      <path d={trend || ''} fill="none" stroke="#111" strokeWidth={1.1} />
      <text x={f.tx} y={f.ty} fontSize={9.5} fill="#222">{geneNames[index]}</text>
      {f.ticks.map(v => (
        <text key={v} x={f.x0 - 10} y={sy(v) + 2.2} textAnchor="end" fontSize={5.8} fill={axisGrey}>{v}</text>
      ))}
      {pseudotimeTicks.map(v => (
        <text key={v} x={sx(v)} y={f.pty - 9} textAnchor="middle" fontSize={5.8} fill={axisGrey}>{v}</text>
      ))}
      <text x={(f.x0 + f.x20) / 2} y={f.pty} textAnchor="middle" fontSize={7.5} fill="#333">Pseudotime</text>
      <text transform={`translate(${f.lx + 3},${f.ly}) rotate(-90)`} textAnchor="middle" fontSize={7.5} fill="#333">Norm Expression</text>
    </g>
  );
};

export default function App() {
  const ax = d3.scaleLinear().domain([-7.5, 5]).range([60.7, 314.7]);
  const ay = d3.scaleLinear().domain([-6, 3]).range([212.3, 57.3]);
  const bx = d3.scaleLinear().domain([-7.5, 5]).range([404.3, 659.3]);
  const by = d3.scaleLinear().domain([-6, 3]).range([214.3, 58.3]);
  const ix = d3.scaleLinear().domain([-7.3, 5]).range([55, 124]);
  const iy = d3.scaleLinear().domain([5.2, -6.5]).range([5, 68.3]);
  const colorA = d3.scaleSequential(d3.interpolateViridis).domain([0, 30.5]);
  const colorB = d3.scaleSequential(d3.interpolateViridis).domain([0, 15.2]);
  const insetPath = closed(ix, iy);

  return (
    <svg width={709} height={605} style={{ position: 'fixed', left: 0, top: 0, background: '#fff', fontFamily: sans }}>
      <UmapPanel id="a" sx={ax} sy={ay} color={colorA}
        groups={[{ outline: aLeftOutline, bands: aLeftBands }, { outline: aMainOutline, bands: aMainBands }]}
        dots={aDots} holes={aHoles} paths={aPaths} start={aStart} />
      <UmapPanel id="b" sx={bx} sy={by} color={colorB}
        groups={[{ outline: bOutline, bands: bBands }]}
        dots={[...bGreenDots.map(d => [d[0], d[1], 10.8]), ...bYellowDots.map(d => [d[0], d[1], 15])]}
        holes={bHoles} paths={bPaths} start={bStart} />

      {/* inset of panel a */}
      <g>
        <rect x={53.5} y={1} width={72} height={69} fill="#fff" stroke="#4a4a4a" strokeWidth={1.6} />
        {[0,1,2,3].map(i => <line key={i} x1={ix(-6 + i * 3)} x2={ix(-6 + i * 3)} y1={2} y2={69} stroke="#f0f0f0" strokeWidth={.5} />)}
        {[0,1,2,3].map(i => <line key={i} x1={54} x2={125} y1={iy(-5 + i * 3)} y2={iy(-5 + i * 3)} stroke="#f0f0f0" strokeWidth={.5} />)}
        {insetShapes.map((s, i) => (
          <path key={i} d={insetPath(s[1]) || ''} fill={clusterColors[s[0]]} stroke={clusterColors[s[0]]} strokeWidth={.8} />
        ))}
        {insetLabels.map(l => (
          <text key={l[0]} x={ix(l[1])} y={iy(l[2]) + 1.3} textAnchor="middle" fontSize={3.8} fill="#333">{l[0]}</text>
        ))}
      </g>

      <text x={187} y={257} textAnchor="middle" fontSize={11} fill="#222">UMAP 1</text>
      <text transform="translate(31,118) rotate(-90)" textAnchor="middle" fontSize={11} fill="#222">UMAP 2</text>
      <text x={532} y={259} textAnchor="middle" fontSize={11} fill="#222">UMAP 1</text>
      <text transform="translate(377,120) rotate(-90)" textAnchor="middle" fontSize={11} fill="#222">UMAP 2</text>

      <text x={131} y={296} fontSize={11} fill="#222">cell_color</text>
      <ColorBar id="barA" x={188} y={277.5} w={56} h={11} color={colorA} max={30} ticks={[0,10,20,30]} />
      <text x={476} y={298} fontSize={11} fill="#222">cell_color</text>
      <ColorBar id="barB" x={533} y={279.5} w={56} h={12} color={colorB} max={15} ticks={[0,5,10,15]} />

      {frames.map((_, i) => <ExpressionPanel key={i} index={i} />)}

      <text x={687.5} y={371.5} fontSize={5.9} fill="#333">Clusters</text>
      {clusterNames.map((n, i) => (
        <g key={n}>
          <circle cx={690} cy={378.3 + i * 7.6} r={.95} fill={clusterColors[i]} />
          <text x={693.5} y={380.4 + i * 7.6} fontSize={5.9} fill="#333">{n}</text>
        </g>
      ))}

      <text x={1} y={17} fontSize={19} fontWeight="bold" fill="#000">a</text>
      <text x={333} y={17} fontSize={19} fontWeight="bold" fill="#000">b</text>
      <text x={1} y={322} fontSize={19} fontWeight="bold" fill="#000">c</text>
    </svg>
  );
}
